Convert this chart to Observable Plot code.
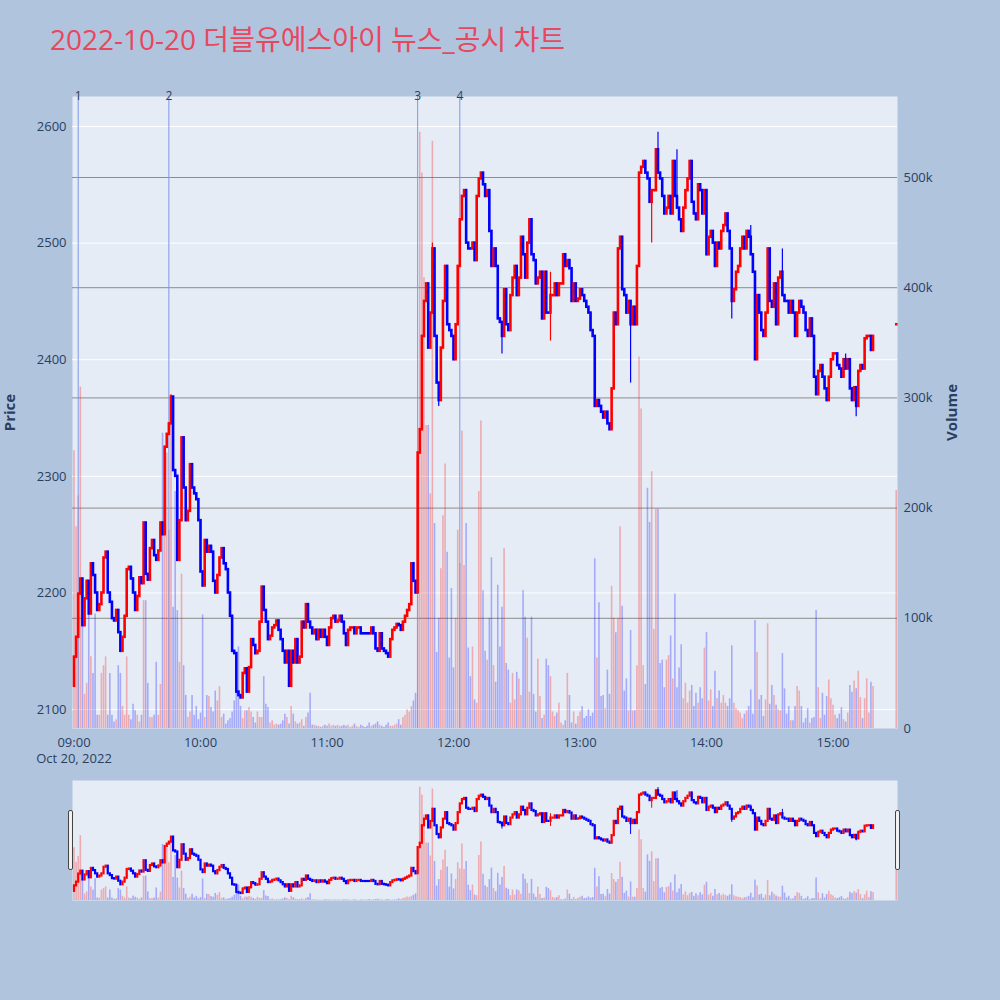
<!DOCTYPE html>
<html><head><meta charset="utf-8">
<script src="https://cdn.jsdelivr.net/npm/d3@7"></script>
<script src="https://cdn.jsdelivr.net/npm/@observablehq/plot@0.6"></script>
<style>
html,body{margin:0;padding:0;background:#b0c4de;}
#wrap{position:relative;width:1000px;height:1000px;background:#b0c4de;overflow:hidden;font-family:"Open Sans",sans-serif;}
.layer{position:absolute;left:0;}
#title{position:absolute;left:50px;top:18px;font-family:"Open Sans","Noto Sans CJK KR",sans-serif;font-size:28px;color:#e8475e;white-space:nowrap;}
.handle{position:absolute;width:5px;height:60px;background:#f2f2f2;border:1px solid #444;border-radius:2px;box-sizing:border-box;}
svg [aria-label="y-axis label"] text, svg [aria-label="y-axis label"]{font-weight:bold;font-size:15px;}
</style></head><body>
<div id="wrap"><div id="title">2022-10-20 더블유에스아이 뉴스_공시 차트</div></div>
<script>
// ---- data: one candle per minute from 09:00 (index = minutes after 09:00) ----
const firstOpen = 2120;
const closes = [
2145,2162,2199,2212,2172,2195,2210,2182,2225,2215,
2200,2185,2190,2200,2230,2235,2200,2192,2178,2176,
2185,2166,2150,2162,2180,2220,2222,2212,2200,2185,
2197,2213,2208,2260,2216,2211,2238,2245,2232,2228,
2236,2260,2250,2325,2336,2345,2368,2305,2300,2228,
2262,2333,2290,2262,2270,2310,2290,2285,2280,2262,
2218,2206,2245,2235,
2240,2235,2210,2200,2215,2230,2238,2225,2220,2200,
2180,2150,2148,2115,2112,2110,2131,2135,2115,2136,
2160,2155,2148,2150,2175,2205,2185,2175,2160,2163,
2170,2172,2176,2168,2160,2150,2140,2150,2120,2150,
2140,2160,2140,2145,2175,2170,2190,2175,2170,2165,
2168,2160,2168,2162,2168,2162,2155,2170,2178,2180,
2175,2176,2180,2175,2165,
2155,2168,2170,2170,2165,2170,2170,2165,2165,2165,
2165,2165,2170,2165,2152,2150,2165,2152,2150,2148,
2145,2160,2168,2170,2173,2172,2168,2175,2180,2185,
2190,2225,2210,2200,2320,2340,2420,2450,2465,2410,
2440,2495,2420,2380,2365,2410,2450,2480,2430,2425,
2420,2400,2430,2480,2520,2540,2545,2500,2495,2495,
2500,2485,
2540,2555,2560,2550,2540,2545,2510,2480,2495,2480,
2435,2432,2420,2460,2430,2425,2455,2470,2480,2455,
2470,2505,2490,2470,2500,2520,2490,2485,2465,2470,
2475,2435,2475,2440,2440,2455,2455,2465,2455,2465,
2465,2490,2480,2485,2478,2450,2465,2450,2452,2460,
2455,2450,2445,2440,2425,2420,2360,2365,2360,2355,
2350,2355,2345,2340,2375,2440,
2430,2495,2505,2460,2455,2440,2450,2430,2445,2430,
2480,2560,2565,2570,2560,2555,2535,2545,2545,2580,
2560,2555,2540,2525,2530,2540,2525,2570,2540,2530,
2520,2510,2530,2545,2555,2570,2535,2525,2520,2550,
2545,2525,2545,2490,2505,2510,2500,2480,2500,2495,
2510,2515,2525,2510,2495,2450,2460,2475,2480,2495,
2505,2495,2510,2505,2490,2475,2400,2455,2440,2425,
2420,2440,2495,2450,2445,2465,2430,2470,2475,2455,
2450,2450,2440,2450,2440,2420,2440,2450,2445,2440,
2425,2420,2435,2420,2385,2370,2390,2395,2385,2375,
2365,2385,2400,2405,2405,2395,2392,2385,2400,2392,
2400,2375,2365,2376,2360,2390,2395,2392,2418,2420,
2420,2408,2420
];
// volume per minute, in thousands of shares
const volumes = [
252,183,211,310,104,31,41,104,65,50,
104,12,12,50,57,65,12,50,12,6,
8,57,50,20,12,65,12,8,22,16,
12,6,12,116,116,41,10,10,12,60,
12,40,268,200,250,180,290,110,215,107,
60,140,57,30,10,15,30,12,20,8,
14,103,10,30,
29,19,15,34,25,38,10,13,4,7,
9,15,25,34,74,20,9,16,16,19,
15,10,5,15,10,10,47,22,19,5,
7,3,4,3,4,7,13,10,4,20,
13,6,4,5,8,2,10,14,32,3,
3,2,2,1,2,3,2,4,2,3,
2,3,2,2,3,
2,3,1,2,4,2,1,3,2,1,
2,5,2,3,4,6,3,2,1,3,
5,2,2,3,4,8,3,10,12,17,
15,
20,25,32,120,541,504,409,275,275,213,
533,186,69,100,145,193,240,160,64,127,
55,100,180,150,270,148,186,73,47,74,
26,23,215,279,
125,70,62,100,155,57,42,130,74,110,
163,59,53,23,50,26,51,45,30,125,
101,82,33,101,31,15,63,29,9,12,
63,57,47,15,11,14,23,5,3,7,
50,30,5,15,4,11,15,20,9,11,
17,11,14,
154,64,114,29,30,18,53,31,129,
100,87,100,183,111,34,45,16,89,16,
16,57,337,290,57,40,218,187,233,90,
199,199,
59,62,37,62,66,84,45,122,37,55,
76,27,41,23,34,39,20,32,23,37,
27,73,87,25,35,20,52,27,34,23,
30,23,20,27,75,23,18,16,14,9,
13,16,20,
35,13,98,69,26,30,11,26,95,22,
39,30,21,17,16,68,36,13,20,7,
7,20,38,34,20,5,9,18,5,9,
10,107,37,9,32,12,29,44,27,21,
12,9,13,19,8,6,14,39,33,43,
36,52,28,9,27,45,14,42,38
];
// closing auction print
const lastTime = "15:30", lastPrice = 2430, lastVolume = 216;
// wicks beyond the bodies
const highMinutes = [46, 170, 226, 277, 286, 321, 336, 366];
const highPrices  = [2370, 2500, 2475, 2595, 2580, 2515, 2495, 2405];
const lowMinutes  = [173, 203, 226, 264, 274, 312, 371];
const lowPrices   = [2360, 2405, 2416, 2380, 2500, 2435, 2351];
// news / disclosure markers
const eventTimes  = ["09:02", "09:45", "11:43", "12:03"];
const eventLabels = ["1", "2", "3", "4"];
// axes
const priceTicks  = [2100, 2200, 2300, 2400, 2500, 2600];
const volumeTicks = [0, 100, 200, 300, 400, 500];
const hourTicks   = ["09:00","10:00","11:00","12:00","13:00","14:00","15:00"];
const dateLabel   = "Oct 20, 2022";

// ---- build ----
const day = [2022, 9, 20];
const base = new Date(day[0], day[1], day[2], 9, 0, 0);
const T = m => new Date(+base + m * 60000);
const HM = s => { const [h, mm] = s.split(":").map(Number); return new Date(day[0], day[1], day[2], h, mm); };
const hiMap = new Map(highMinutes.map((m, i) => [m, highPrices[i]]));
const loMap = new Map(lowMinutes.map((m, i) => [m, lowPrices[i]]));
const rows = [];
let prevUp = true;
closes.forEach((c, i) => {
  const o = i === 0 ? firstOpen : closes[i - 1];
  const up = c > o ? true : c < o ? false : prevUp; prevUp = up;
  const high = Math.max(o, c, hiMap.get(i) ?? -Infinity);
  const low = Math.min(o, c, loMap.get(i) ?? Infinity);
  rows.push({t: T(i), open: o, close: c, high, low, vol: volumes[i], up});
});
rows.push({t: HM(lastTime), open: lastPrice, close: lastPrice, high: lastPrice, low: lastPrice, vol: lastVolume, up: true});
const events = eventTimes.map((s, i) => ({t: HM(s), label: eventLabels[i]}));

const UP = "#ff0000", DOWN = "#0000ff";
const col = d => d.up ? UP : DOWN;
const xDomain = [T(-0.71), T(390.6)];
const priceDomain = [2083.8, 2625.7];
const volDomain = [0, 573.5];
const axisColor = "#2a3f5f";
const font = {background: "transparent", fontFamily: "'Open Sans', sans-serif", fontSize: "13px", color: axisColor, overflow: "visible"};
const main = {width: 1000, height: 780, marginLeft: 72, marginRight: 103, marginTop: 96, marginBottom: 52, style: font};
const slider = {width: 1000, height: 120, marginLeft: 72, marginRight: 103, marginTop: 0, marginBottom: 0, style: font};
const fmtHM = d3.timeFormat("%H:%M");
const wrap = document.getElementById("wrap");
function put(svg, top) { svg.classList.add("layer"); svg.style.top = top + "px"; wrap.appendChild(svg); }

// base layer: frame, price grid, axes
put(Plot.plot({...main,
  x: {type: "time", domain: xDomain},
  y: {domain: priceDomain},
  marks: [
    Plot.frame({fill: "#e5ecf6", stroke: null}),
    Plot.gridY(priceTicks, {stroke: "#ffffff", strokeOpacity: 1, strokeWidth: 1}),
    Plot.axisY(priceTicks, {anchor: "left", tickSize: 0, tickPadding: 6, fill: axisColor, fontSize: 13,
      tickFormat: d => String(d),
      label: "Price", labelAnchor: "center", labelOffset: 68, labelArrow: false}),
    Plot.axisX(hourTicks.map(HM), {anchor: "bottom", tickSize: 0, tickPadding: 7, fill: axisColor, fontSize: 13,
      lineHeight: 1.25,
      tickFormat: (d, i) => i === 0 ? fmtHM(d) + "\n" + dateLabel : fmtHM(d), label: null})
  ]
}), 0);

// volume layer
put(Plot.plot({...main,
  x: {type: "time", domain: xDomain, axis: null},
  y: {domain: volDomain},
  marks: [
    Plot.gridY(volumeTicks.slice(1), {stroke: "#8c8c8c", strokeOpacity: 1, strokeWidth: 1}),
    Plot.ruleX(rows, {x: "t", y1: 0, y2: "vol", stroke: col, strokeOpacity: 0.28, strokeWidth: 1.6}),
    Plot.axisY(volumeTicks, {anchor: "right", tickSize: 0, tickPadding: 6, fill: axisColor, fontSize: 13,
      tickFormat: d => d === 0 ? "0" : d + "k",
      label: "Volume", labelAnchor: "center", labelOffset: 59, labelArrow: false})
  ]
}), 0);

// candles + events
put(Plot.plot({...main,
  x: {type: "time", domain: xDomain, axis: null},
  y: {domain: priceDomain, axis: null},
  marks: [
    Plot.ruleX(events, {x: "t", stroke: "#7d96e8", strokeWidth: 1}),
    Plot.text(events, {x: "t", text: "label", frameAnchor: "top", lineAnchor: "middle", fill: axisColor, fontSize: 12}),
    Plot.ruleX(rows, {x: "t", y1: "low", y2: "high", stroke: col, strokeWidth: 1.2}),
    Plot.ruleX(rows, {x: "t", y1: "open", y2: "close", stroke: col, strokeWidth: 2.6, strokeLinecap: "square"})
  ]
}), 0);

// range slider
put(Plot.plot({...slider,
  x: {type: "time", domain: xDomain, axis: null},
  y: {domain: volDomain, axis: null},
  marks: [
    Plot.frame({fill: "#e5ecf6", stroke: null}),
    Plot.ruleX(rows, {x: "t", y1: 0, y2: "vol", stroke: col, strokeOpacity: 0.28, strokeWidth: 1.6})
  ]
}), 780);
put(Plot.plot({...slider,
  x: {type: "time", domain: xDomain, axis: null},
  y: {domain: [2078, 2627], axis: null},
  marks: [
    Plot.ruleX(rows, {x: "t", y1: "low", y2: "high", stroke: col, strokeWidth: 1}),
    Plot.ruleX(rows, {x: "t", y1: "open", y2: "close", stroke: col, strokeWidth: 2.2, strokeLinecap: "square"})
  ]
}), 780);
for (const left of [68, 895]) {
  const h = document.createElement("div"); h.className = "handle";
  h.style.left = left + "px"; h.style.top = "810px"; wrap.appendChild(h);
}
</script>
</body></html>
